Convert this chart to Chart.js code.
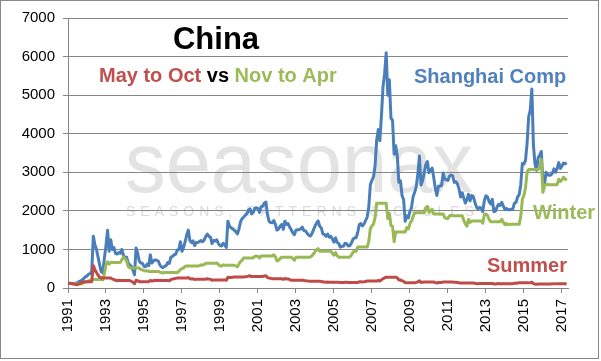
<!DOCTYPE html>
<html>
<head>
<meta charset="utf-8">
<script src="https://cdn.jsdelivr.net/npm/chart.js@4.4.0/dist/chart.umd.min.js"></script>
<style>
  html, body { margin: 0; padding: 0; background: #fff; }
  canvas { display: block; }
</style>
</head>
<body>
<canvas id="chart" width="601" height="361"></canvas>
<script>
// monthly values, Jan 1991 .. Apr 2017
const startYear = 1991;
const tickYears = [1991, 1993, 1995, 1997, 1999, 2001, 2003, 2005, 2007, 2009, 2011, 2013, 2015, 2017];

const shanghaiComp = [
  128, 125, 118, 110, 108, 130, 140, 170, 180, 210, 250, 290,
  310, 360, 370, 440, 1340, 1120, 1000, 800, 600, 420, 400, 780,
  1100, 1500, 950, 1250, 1000, 1050, 900, 880, 920, 900, 1000, 850,
  770, 800, 650, 600, 560, 460, 340, 1040, 900, 700, 650, 640,
  560, 550, 620, 580, 860, 650, 700, 730, 720, 700, 600, 550,
  530, 560, 580, 660, 640, 800, 820, 860, 880, 980, 1000, 1200,
  950, 1050, 1200, 1380, 1500, 1230, 1180, 1220, 1100, 1180, 1180, 1200,
  1230, 1200, 1240, 1340, 1400, 1340, 1320, 1150, 1230, 1220, 1250, 1150,
  1100, 1090, 1160, 1120, 1050, 1730, 1600, 1560, 1540, 1500, 1460, 1400,
  1530, 1720, 1800, 1840, 1890, 1930, 2020, 2050, 1920, 1960, 2070, 2080,
  2060, 1960, 2110, 2120, 2200, 2230, 1900, 1730, 1700, 1690, 1750, 1650,
  1500, 1530, 1600, 1650, 1520, 1730, 1650, 1670, 1580, 1510, 1430, 1380,
  1500, 1510, 1510, 1530, 1580, 1490, 1480, 1420, 1370, 1350, 1400, 1500,
  1600, 1680, 1740, 1600, 1560, 1400, 1390, 1340, 1400, 1320, 1340, 1270,
  1190, 1300, 1180, 1160, 1060, 1080, 1080, 1160, 1150, 1090, 1100, 1160,
  1260, 1300, 1300, 1440, 1640, 1670, 1610, 1660, 1750, 1840, 2100, 2680,
  2790, 2880, 3180, 3840, 4110, 3820, 4470, 5220, 5550, 6100, 5000, 5400,
  4400, 4350, 3470, 3690, 3430, 2740, 2780, 2400, 2290, 1730, 1870, 1820,
  1990, 2080, 2370, 2480, 2630, 2960, 3420, 2670, 2780, 2990, 3200, 3280,
  2990, 3050, 3110, 2870, 2590, 2400, 2640, 2640, 2660, 2980, 2820, 2810,
  2790, 2900, 2930, 2910, 2740, 2760, 2700, 2570, 2360, 2470, 2330, 2200,
  2290, 2430, 2260, 2400, 2370, 2230, 2100, 2050, 2090, 2070, 1980, 2270,
  2390, 2360, 2240, 2180, 2300, 1980, 1990, 2100, 2170, 2140, 2220, 2120,
  2030, 2060, 2030, 2030, 2040, 2050, 2200, 2220, 2360, 2420, 2680, 3230,
  3210, 3310, 3750, 4440, 4610, 5160, 3700, 3210, 3050, 3380, 3450, 3540,
  2740, 2690, 3000, 2940, 2920, 2930, 2980, 3090, 3000, 3100, 3250, 3100,
  3160, 3240, 3220, 3250
];

const winterNovApr = [
  128, 130, 120, 113, 113, 113, 113, 113, 113, 113, 135, 150,
  160, 190, 195, 220, 220, 220, 220, 220, 220, 220, 210, 380,
  600, 680, 620, 660, 660, 660, 660, 660, 660, 660, 730, 800,
  760, 700, 560, 520, 520, 520, 520, 520, 520, 520, 480, 470,
  450, 440, 450, 430, 430, 430, 430, 430, 430, 430, 410, 400,
  390, 400, 400, 400, 400, 400, 400, 400, 400, 400, 430, 480,
  500, 520, 560, 570, 570, 570, 570, 570, 570, 570, 570, 580,
  600, 590, 610, 640, 640, 640, 640, 640, 640, 640, 650, 610,
  570, 570, 600, 590, 590, 590, 590, 590, 590, 590, 570, 550,
  620, 690, 720, 780, 780, 780, 780, 780, 780, 780, 820, 820,
  820, 780, 830, 830, 830, 830, 830, 830, 830, 830, 860, 810,
  700, 720, 760, 800, 800, 800, 800, 800, 800, 800, 760, 720,
  800, 800, 800, 800, 800, 800, 800, 800, 800, 800, 830, 880,
  940, 990, 1020, 950, 950, 950, 950, 950, 950, 950, 950, 900,
  850, 920, 840, 800, 800, 800, 800, 800, 800, 800, 800, 850,
  930, 950, 950, 1060, 1060, 1060, 1060, 1060, 1060, 1060, 1210, 1540,
  1610, 1660, 1830, 2200, 2200, 2200, 2200, 2200, 2200, 2200, 1800, 1940,
  1620, 1600, 1200, 1450, 1450, 1450, 1450, 1450, 1450, 1450, 1570, 1530,
  1670, 1740, 1850, 1950, 1950, 1950, 1950, 1950, 1950, 1950, 2080, 2120,
  1960, 2000, 2040, 1920, 1920, 1920, 1920, 1920, 1920, 1920, 1820, 1810,
  1800, 1870, 1890, 1870, 1870, 1870, 1870, 1870, 1870, 1870, 1760, 1660,
  1600, 1780, 1700, 1740, 1740, 1740, 1740, 1740, 1740, 1740, 1680, 1900,
  1920, 1880, 1780, 1720, 1720, 1720, 1720, 1720, 1720, 1720, 1780, 1700,
  1640, 1670, 1640, 1650, 1650, 1650, 1650, 1650, 1650, 1650, 1850, 2300,
  2400, 2600, 3000, 3070, 3070, 3070, 3070, 3070, 3070, 3070, 3150, 3330,
  2480, 2640, 2700, 2680, 2680, 2680, 2680, 2680, 2680, 2680, 2820, 2760,
  2800, 2870, 2830, 2790
];

const summerMayOct = [
  115, 115, 115, 115, 100, 90, 90, 110, 120, 150, 165, 165,
  165, 165, 165, 165, 580, 470, 400, 330, 280, 260, 260, 260,
  260, 260, 260, 260, 230, 220, 200, 190, 200, 195, 195, 195,
  195, 195, 195, 195, 175, 150, 110, 200, 190, 165, 165, 165,
  165, 165, 165, 165, 200, 180, 190, 200, 195, 195, 195, 195,
  195, 195, 195, 195, 190, 220, 230, 240, 250, 260, 260, 260,
  260, 260, 260, 260, 270, 240, 235, 240, 220, 230, 230, 230,
  230, 230, 230, 230, 240, 230, 225, 200, 210, 210, 210, 210,
  210, 210, 210, 210, 200, 280, 270, 275, 280, 285, 285, 285,
  285, 285, 285, 285, 290, 295, 310, 315, 295, 300, 300, 300,
  300, 300, 300, 300, 310, 315, 270, 260, 250, 240, 240, 240,
  240, 240, 240, 240, 225, 245, 235, 235, 220, 200, 200, 200,
  200, 200, 200, 200, 205, 195, 190, 185, 178, 175, 175, 175,
  175, 175, 175, 175, 170, 155, 155, 150, 155, 150, 150, 150,
  150, 150, 150, 150, 140, 140, 140, 150, 148, 140, 140, 140,
  140, 140, 140, 140, 160, 162, 157, 160, 170, 180, 180, 180,
  180, 180, 180, 180, 195, 180, 210, 245, 260, 280, 280, 280,
  280, 280, 280, 280, 260, 210, 210, 185, 175, 135, 135, 135,
  135, 135, 135, 135, 145, 160, 185, 145, 150, 155, 155, 155,
  155, 155, 155, 155, 140, 130, 143, 143, 145, 155, 155, 155,
  155, 155, 155, 155, 146, 147, 144, 137, 126, 132, 132, 132,
  132, 132, 132, 132, 130, 123, 116, 113, 115, 114, 114, 114,
  114, 114, 114, 114, 120, 104, 104, 110, 114, 112, 112, 112,
  112, 112, 112, 112, 112, 113, 121, 122, 130, 133, 133, 133,
  133, 133, 133, 133, 138, 150, 112, 100, 95, 105, 105, 105,
  105, 105, 105, 105, 104, 105, 107, 110, 107, 110, 110, 110,
  110, 110, 110, 110
];

const COLORS = { blue: "#4A7EBB", green: "#98B954", red: "#BE4B48", grid: "#868686",
  textRed: "#C0504D", textGreen: "#9BBB59", textBlue: "#4F81BD", watermark: "#E3E3E3" };
const FONT = "'Liberation Sans', Arial, sans-serif";

function toPoints(values) {
  return values.map((v, i) => ({ x: startYear + i / 12, y: v }));
}

const decorations = {
  id: "decorations",
  beforeDraw(chart) {
    const ctx = chart.ctx;
    ctx.save();
    ctx.fillStyle = "#fff";
    ctx.fillRect(0, 0, chart.width, chart.height);
    // seasonax watermark
    ctx.fillStyle = COLORS.watermark;
    ctx.font = "85px " + FONT;
    ctx.textBaseline = "alphabetic";
    const w = ctx.measureText("seasonax").width;
    ctx.translate(125, 192);
    ctx.scale(348 / w, 1);
    ctx.fillText("seasonax", 0, 0);
    ctx.restore();
    ctx.save();
    ctx.fillStyle = "#DADADA";
    ctx.font = "14px " + FONT;
    const sub = "SEASONS, PATTERNS & CYCLES";
    const widths = [...sub].map((c) => ctx.measureText(c).width);
    const gap = (348 - widths.reduce((a, b) => a + b, 0)) / (sub.length - 1);
    let x = 126;
    [...sub].forEach((c, i) => { ctx.fillText(c, x, 216); x += widths[i] + gap; });
    ctx.restore();
  },
  afterDraw(chart) {
    const ctx = chart.ctx;
    ctx.save();
    ctx.textBaseline = "alphabetic";
    ctx.fillStyle = "#000";
    ctx.font = "bold 31px " + FONT;
    ctx.textAlign = "center";
    ctx.fillText("China", 216, 49);
    ctx.textAlign = "left";
    ctx.font = "bold 20px " + FONT;
    let x = 99;
    [["May to Oct", COLORS.textRed], [" vs ", "#000"], ["Nov to Apr", COLORS.textGreen]].forEach(([t, c]) => {
      ctx.fillStyle = c;
      ctx.fillText(t, x, 82);
      x += ctx.measureText(t).width;
    });
    ctx.fillStyle = COLORS.textBlue;
    ctx.fillText("Shanghai Comp", 414, 83);
    ctx.fillStyle = COLORS.textGreen;
    ctx.fillText("Winter", 533, 219);
    ctx.fillStyle = COLORS.textRed;
    ctx.fillText("Summer", 487, 272);
    ctx.strokeStyle = "#898989";
    ctx.lineWidth = 1;
    ctx.strokeRect(0.5, 0.5, 598, 358);
    ctx.restore();
  }
};

new Chart(document.getElementById("chart"), {
  type: "line",
  data: { datasets: [
    { label: "Shanghai Comp", data: toPoints(shanghaiComp), borderColor: COLORS.blue, order: 3 },
    { label: "Winter", data: toPoints(winterNovApr), borderColor: COLORS.green, order: 2 },
    { label: "Summer", data: toPoints(summerMayOct), borderColor: COLORS.red, order: 1 }
  ] },
  options: {
    responsive: false, animation: false,
    layout: { padding: { left: 0, top: 18, right: 33, bottom: 0 } },
    elements: { point: { radius: 0 }, line: { borderWidth: 3, tension: 0, borderJoinStyle: "round" } },
    plugins: { legend: { display: false }, tooltip: { enabled: false } },
    scales: {
      x: { type: "linear", min: 1991, max: 2017.32,
        afterBuildTicks: (axis) => { axis.ticks = tickYears.map((v) => ({ value: v })); },
        afterFit: (axis) => { axis.height = 73; },
        ticks: { callback: (v) => String(v), minRotation: 90, maxRotation: 90, autoSkip: false,
          color: "#000", padding: 6, font: { family: FONT, size: 15 } },
        grid: { drawOnChartArea: false, tickLength: 5, color: COLORS.grid },
        border: { color: COLORS.grid } },
      y: { min: 0, max: 7000,
        afterFit: (axis) => { axis.width = 68; },
        ticks: { stepSize: 1000, callback: (v) => String(v), color: "#000", padding: 8,
          font: { family: FONT, size: 15 } },
        grid: { color: COLORS.grid, tickLength: 5 },
        border: { color: COLORS.grid } }
    }
  },
  plugins: [decorations]
});
</script>
</body>
</html>
